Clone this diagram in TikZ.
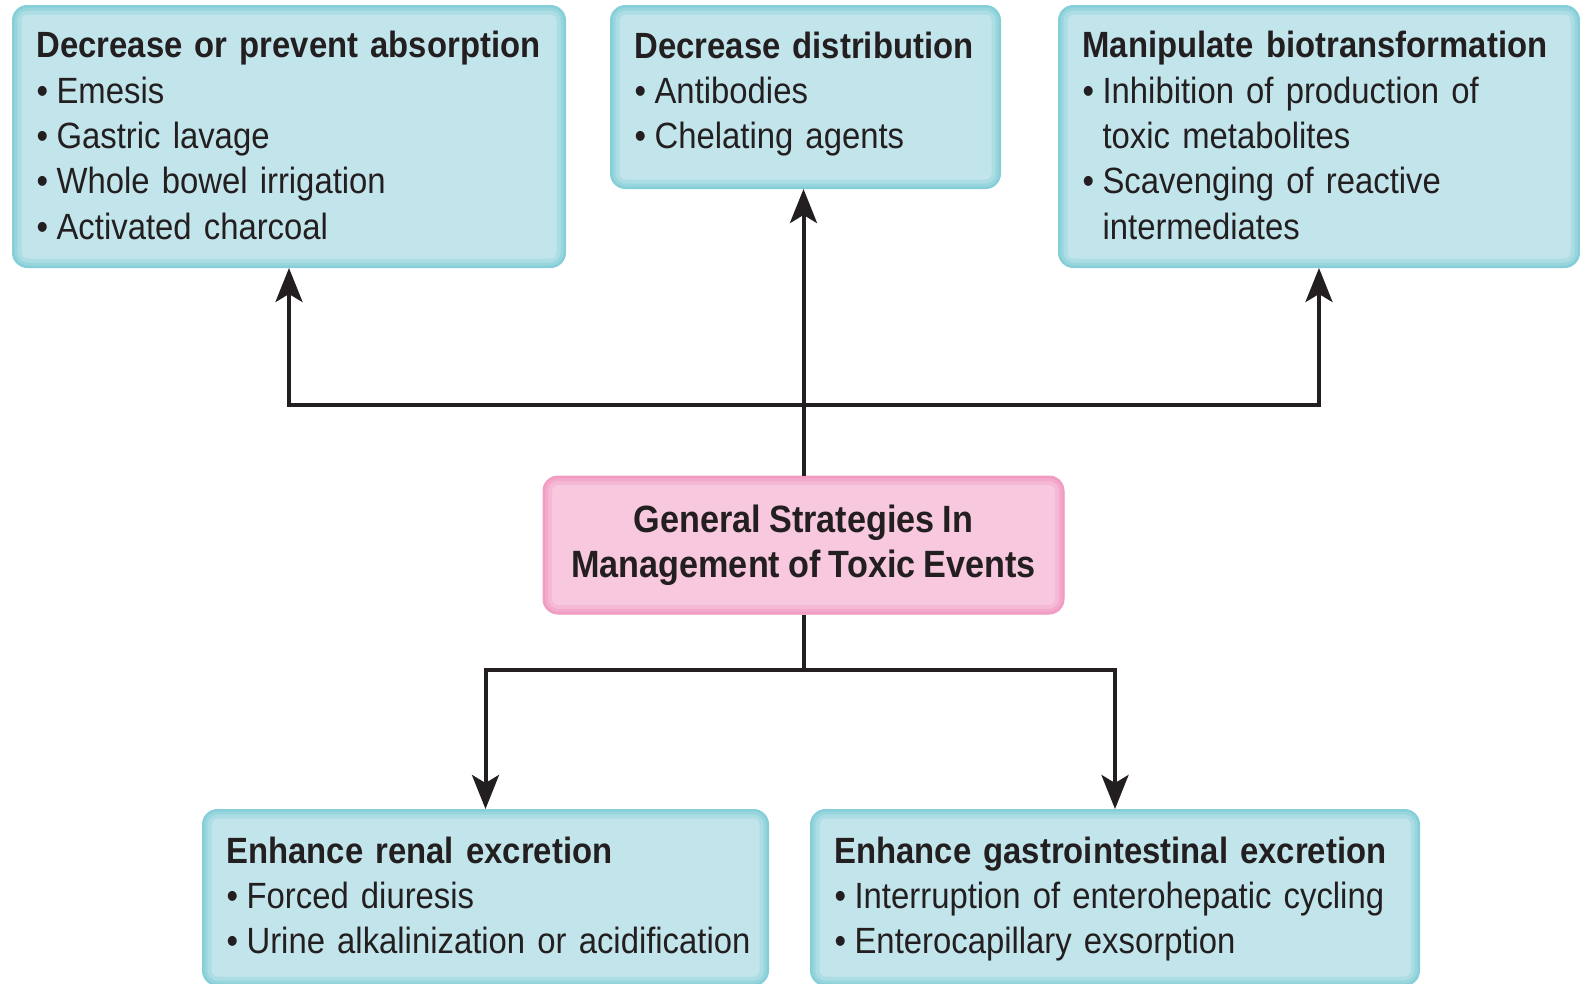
\documentclass[tikz,border=0pt]{standalone}
\usepackage{fontspec}
\setmainfont{Liberation Sans}[FakeStretch=0.9,WordSpace=0.85]
\usetikzlibrary{arrows.meta}
\definecolor{ink}{HTML}{231F20}
\definecolor{bluefill}{HTML}{C2E5EB}
\definecolor{blueedge}{HTML}{86CFD8}
\definecolor{pinkfill}{HTML}{F8C8DE}
\definecolor{pinkedge}{HTML}{F09CC3}
\newcommand{\itm}[1]{\hangindent=0.55em\hangafter=1\makebox[0.55em][l]{\textbullet}#1\strut\par}
\begin{document}
\begin{tikzpicture}[x=1pt,y=-1pt,
  every node/.style={text=ink, font=\fontsize{36.5}{45.3}\selectfont},
  glowbox/.style n args={2}{rounded corners=15pt,
    path picture={
      \fill[#2] (path picture bounding box.south west) rectangle (path picture bounding box.north east);
      \draw[line width=18pt,#1!35!#2,rounded corners=15pt] (path picture bounding box.south west) rectangle (path picture bounding box.north east);
      \draw[line width=10pt,#1!70!#2,rounded corners=15pt] (path picture bounding box.south west) rectangle (path picture bounding box.north east);
      \draw[line width=4pt,#1,rounded corners=15pt] (path picture bounding box.south west) rectangle (path picture bounding box.north east);
    },
    draw=#1, line width=1pt},
  infobox/.style={glowbox={blueedge}{bluefill}, anchor=north west, align=left,
    inner xsep=24pt, inner ysep=0pt},
  hubbox/.style={glowbox={pinkedge}{pinkfill}, align=center, inner sep=0pt,
    minimum width=521pt, minimum height=138pt, font=\fontsize{38}{45.3}\selectfont\bfseries},
  link/.style={draw=ink, line width=4pt},
  arr/.style={link, -{Stealth[length=34pt,width=27pt,inset=8pt]}}
]
\useasboundingbox (0,0) rectangle (1580,983);

\node[infobox, minimum width=553pt, minimum height=262pt, text width=505pt] (absorb) at (12,5)
  {\parbox{505pt}{\vspace*{6pt}\strut\textbf{Decrease or prevent absorption}\par
   \itm{Emesis}\itm{Gastric lavage}\itm{Whole bowel irrigation}\itm{Activated charcoal}}};
\node[infobox, minimum width=390pt, minimum height=183pt, text width=342pt] (distrib) at (610,5)
  {\parbox{342pt}{\strut\textbf{Decrease distribution}\par
   \itm{Antibodies}\itm{Chelating agents}\vspace*{5pt}}};
\node[infobox, minimum width=521pt, minimum height=262pt, text width=473pt] (biotrans) at (1058,5)
  {\parbox{473pt}{\vspace*{6pt}\strut\textbf{Manipulate biotransformation}\par
   \itm{Inhibition of production of\\toxic metabolites}\itm{Scavenging of reactive\\intermediates}}};

\node[hubbox] (hub) at (803.5,545) {General Strategies In\\Management of Toxic Events};

\node[infobox, minimum width=566pt, minimum height=176pt, text width=518pt] (renal) at (202,809)
  {\parbox{518pt}{\vspace*{4pt}\strut\textbf{Enhance renal excretion}\par
   \itm{Forced diuresis}\itm{\mbox{Urine alkalinization or acidification}}}};
\node[infobox, minimum width=609pt, minimum height=176pt, text width=561pt] (gut) at (810,809)
  {\parbox{561pt}{\vspace*{4pt}\strut\textbf{Enhance gastrointestinal excretion}\par
   \itm{\mbox{Interruption of enterohepatic cycling}}\itm{Enterocapillary exsorption}}};

\coordinate (up) at (803.5,405);
\coordinate (down) at (803.5,670);

\draw[arr] (hub.north) -- (hub.north |- distrib.south);
\draw[arr] (up) -| (absorb.south);
\draw[arr] (up) -| (biotrans.south);
\draw[link] (hub.south) -- (down);
\draw[arr] (down) -| (renal.north);
\draw[arr] (down) -| (gut.north);
\end{tikzpicture}
\end{document}
